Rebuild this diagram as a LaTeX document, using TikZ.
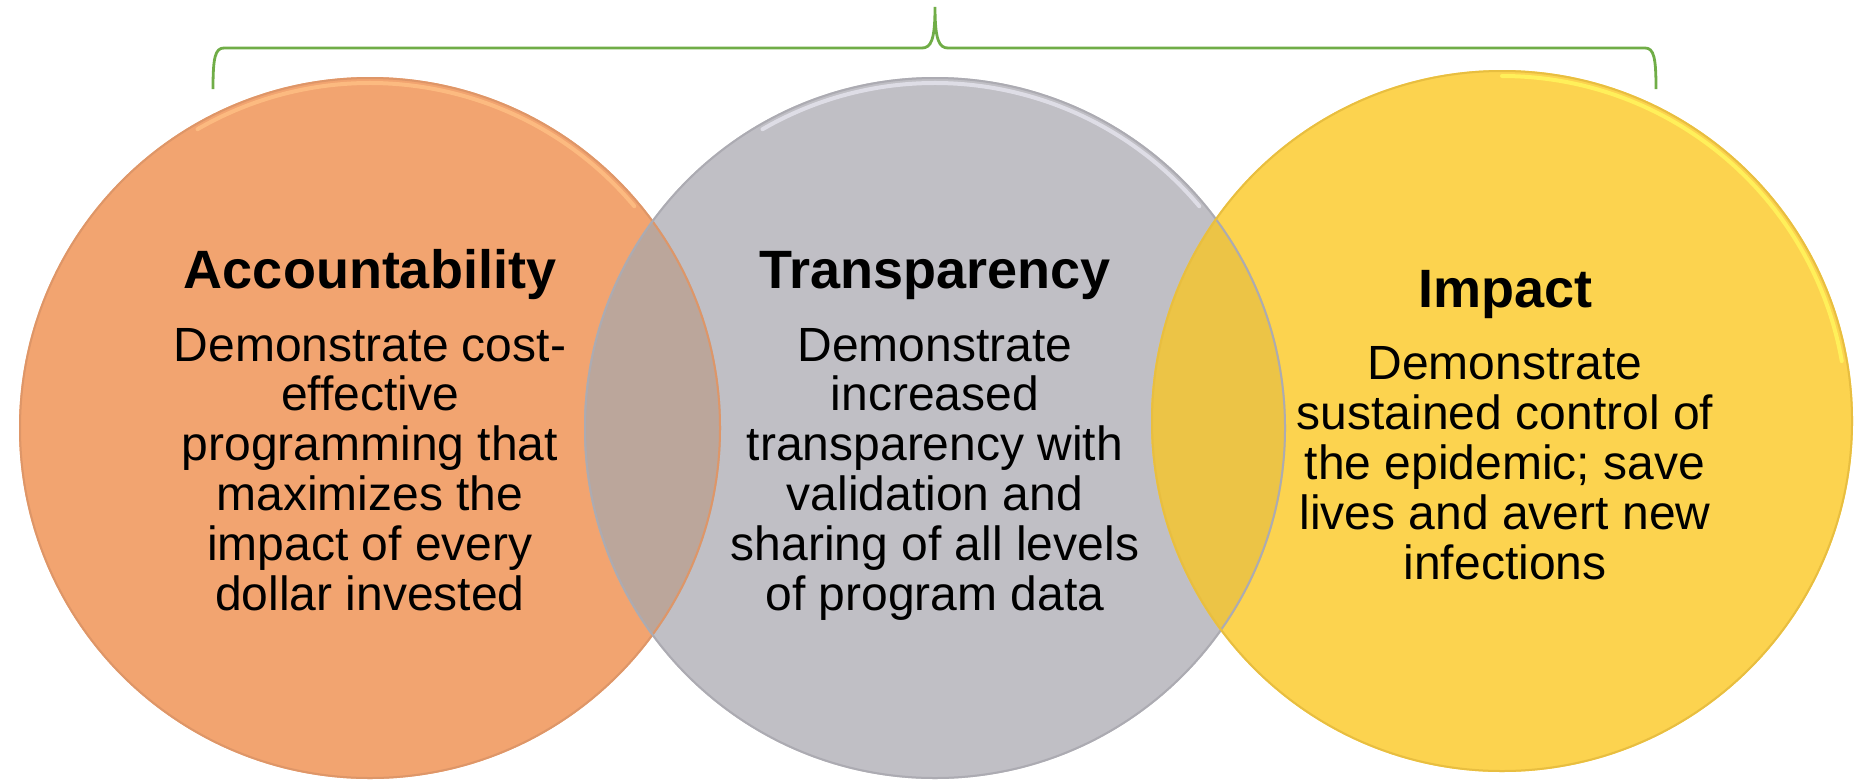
\documentclass[tikz,border=0pt]{standalone}
\usepackage{fontspec}
\setmainfont{Liberation Sans}
\definecolor{venorange}{RGB}{242,164,112}
\definecolor{venorangerim}{RGB}{222,150,104}
\definecolor{venorangelit}{RGB}{252,186,128}
\definecolor{vengray}{RGB}{192,191,197}
\definecolor{vengrayrim}{RGB}{172,171,178}
\definecolor{vengraylit}{RGB}{222,221,230}
\definecolor{venyellow}{RGB}{252,211,79}
\definecolor{venyellowrim}{RGB}{232,190,64}
\definecolor{venyellowlit}{RGB}{255,240,90}
\definecolor{lensog}{RGB}{187,166,155}
\definecolor{lensgy}{RGB}{236,196,70}
\definecolor{bracegreen}{RGB}{112,173,71}
\tikzset{
  vtitle/.style={anchor=base, font=\fontsize{27}{32}\selectfont\bfseries},
  vbody/.style={anchor=base, align=center, font=\fontsize{24}{24.9}\selectfont},
  vrim/.style={line width=1pt},
  vlit/.style={line width=2pt, line cap=round}
}

\begin{document}
\begin{tikzpicture}[x=0.5pt,y=-0.5pt]
\tikzstyle{every node}+=[inner sep=0pt]
\useasboundingbox (0,0) rectangle (1855,782);
% the three circles
\fill [venorange] (370,428) circle (351);
\fill [vengray] (935,428) circle (351);
\fill [venyellow] (1502,421) circle (351);
% overlaps
\begin{scope}
\clip (370,428) circle (351);
\fill [lensog] (935,428) circle (351);
\end{scope}
\begin{scope}
\clip (935,428) circle (351);
\fill [lensgy] (1502,421) circle (351);
\end{scope}
% soft highlights on the upper rims
\draw [venorangelit, vlit] (370,428) ++(-120:345) arc (-120:-40:345);
\draw [vengraylit, vlit] (935,428) ++(-120:345) arc (-120:-40:345);
\draw [venyellowlit, vlit] (1502,421) ++(-90:345) arc (-90:-10:345);
\draw [venorangerim, vrim] (370,428) circle (350);
\draw [vengrayrim, vrim] (935,428) circle (350);
\draw [venyellowrim, vrim] (1502,421) circle (350);
% brace over the circles
\coordinate (braceleft) at (213,89);
\coordinate (bracetip) at (935,7);
\coordinate (braceright) at (1656,89);
\draw [bracegreen, line width=1.4pt] (braceleft) .. controls (213,58) and (215,48) .. (224,48)
  -- (922,48) .. controls (931,48) and (935,40) .. (bracetip)
  .. controls (935,40) and (939,48) .. (948,48)
  -- (1645,48) .. controls (1654,48) and (1656,58) .. (braceright);
% texts (body nodes sit on their last line)
\node [vtitle] (acctitle) at (370,288) {Accountability};
\node [vbody] (acctext) at (370,610) {Demonstrate cost-\\effective\\programming that\\maximizes the\\impact of every\\dollar invested};
\node [vtitle] (transtitle) at (935,288) {Transparency};
\node [vbody] (transtext) at (935,610) {Demonstrate\\increased\\transparency with\\validation and\\sharing of all levels\\of program data};
\node [vtitle] (imptitle) at (1505,307) {Impact};
\node [vbody] (imptext) at (1505,579) {Demonstrate\\sustained control of\\the epidemic; save\\lives and avert new\\infections};
\end{tikzpicture}
\end{document}
